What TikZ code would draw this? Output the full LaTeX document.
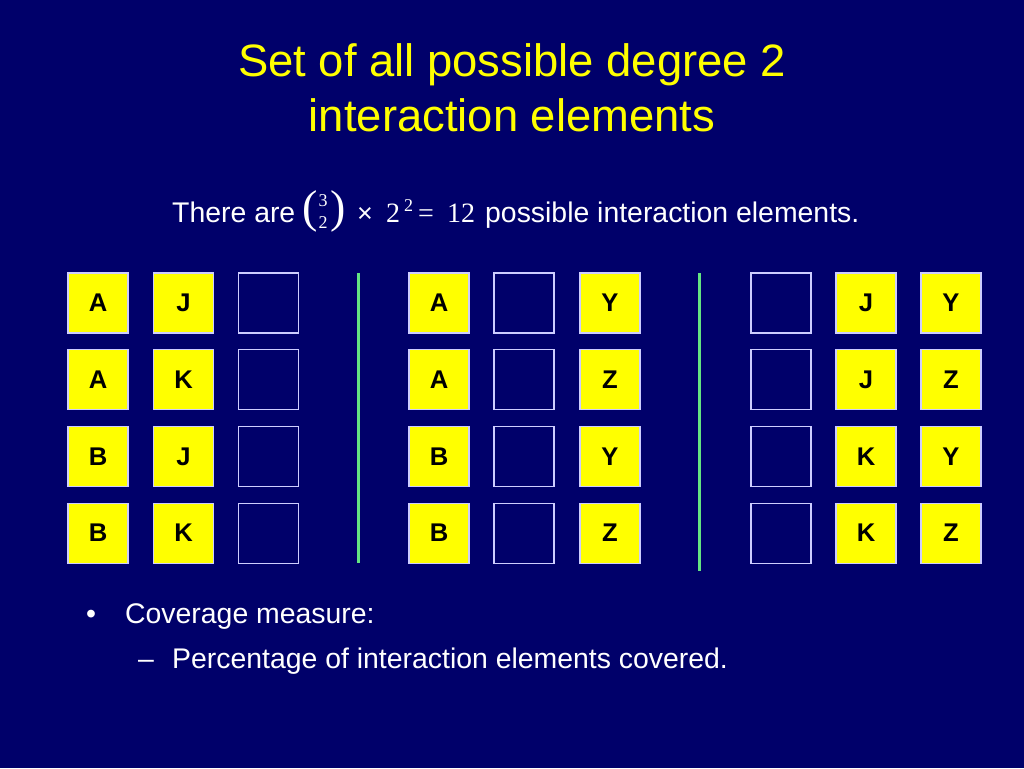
\documentclass[tikz,border=0pt]{standalone}
\usepackage{fontspec}
\setmainfont{Liberation Sans}
\newfontfamily\serifnum{Liberation Serif}
\definecolor{bg}{RGB}{0,0,106}
\definecolor{ttl}{RGB}{255,255,0}
\definecolor{boxedge}{RGB}{205,205,255}
\definecolor{sepgreen}{RGB}{100,228,130}
\begin{document}
\begin{tikzpicture}[x=1pt,y=-1pt,
  title/.style={text=ttl, font=\fontsize{45.4}{50}\selectfont, anchor=base, inner sep=0},
  body/.style={text=white, font=\fontsize{28.4}{34}\selectfont, anchor=base west, inner sep=0},
  ser/.style={text=white, anchor=base west, inner sep=0},
  cell/.style={draw=boxedge, line width=1.1pt, minimum size=60pt, inner sep=0, font=\bfseries\fontsize{25.6}{30}\selectfont, text=black},
  ycell/.style={cell, fill=ttl},
  sep/.style={draw=sepgreen, line width=3pt}]
\fill[bg] (0,0) rectangle (1024,768);
\useasboundingbox (0,0) rectangle (1024,768);
% title
\node[title] (t1) at (512,77) {Set of all possible degree 2};
\node[title] (t2) at (512,131) {interaction elements};
% formula line
\node[body] (f1) at (172,222) {There are};
\node[ser, font=\serifnum\fontsize{46}{50}\selectfont] (lp) at (302,222) {(};
\node[ser, anchor=center, font=\serifnum\fontsize{18}{20}\selectfont] (b3) at (323,201) {3};
\node[ser, anchor=center, font=\serifnum\fontsize{18}{20}\selectfont] (b2) at (323,223) {2};
\node[ser, font=\serifnum\fontsize{46}{50}\selectfont] (rp) at (330,222) {)};
\node[ser, font=\fontsize{27}{30}\selectfont] (tm) at (357,222) {×};
\node[ser, font=\serifnum\fontsize{28}{32}\selectfont] (two) at (386,222) {2};
\node[ser, font=\serifnum\fontsize{18}{20}\selectfont] (sup) at (404,211) {2};
\node[ser, font=\serifnum\fontsize{28}{32}\selectfont] (eq) at (418,222) {=};
\node[ser, font=\serifnum\fontsize{28}{32}\selectfont] (twelve) at (447,222) {12};
\node[body] (f2) at (485,222) {possible interaction elements.};
% group 1
\foreach \l [count=\i] in {A,A,B,B} {
  \pgfmathsetmacro\yy{303+76.7*(\i-1)}
  \node[ycell] (g1a\i) at (98,\yy) {\l};
}
\foreach \l [count=\i] in {J,K,J,K} {
  \pgfmathsetmacro\yy{303+76.7*(\i-1)}
  \node[ycell] (g1b\i) at (183.5,\yy) {\l};
}
\foreach \i in {1,...,4} {
  \pgfmathsetmacro\yy{303+76.7*(\i-1)}
  \node[cell] (g1c\i) at (268.5,\yy) {};
}
% group 2
\foreach \l [count=\i] in {A,A,B,B} {
  \pgfmathsetmacro\yy{303+76.7*(\i-1)}
  \node[ycell] (g2a\i) at (439,\yy) {\l};
}
\foreach \i in {1,...,4} {
  \pgfmathsetmacro\yy{303+76.7*(\i-1)}
  \node[cell] (g2b\i) at (524,\yy) {};
}
\foreach \l [count=\i] in {Y,Z,Y,Z} {
  \pgfmathsetmacro\yy{303+76.7*(\i-1)}
  \node[ycell] (g2c\i) at (610,\yy) {\l};
}
% group 3
\foreach \i in {1,...,4} {
  \pgfmathsetmacro\yy{303+76.7*(\i-1)}
  \node[cell] (g3a\i) at (781,\yy) {};
}
\foreach \l [count=\i] in {J,J,K,K} {
  \pgfmathsetmacro\yy{303+76.7*(\i-1)}
  \node[ycell] (g3b\i) at (866,\yy) {\l};
}
\foreach \l [count=\i] in {Y,Z,Y,Z} {
  \pgfmathsetmacro\yy{303+76.7*(\i-1)}
  \node[ycell] (g3c\i) at (951,\yy) {\l};
}
% separators
\coordinate (s1a) at (358,273);
\coordinate (s1b) at (358,563);
\coordinate (s2a) at (699.5,273);
\coordinate (s2b) at (699.5,571);
\draw[sep] (s1a) -- (s1b);
\draw[sep] (s2a) -- (s2b);
% bullets
\node[body] (bu1) at (86,623) {•};
\node[body] (bt1) at (125,623) {Coverage measure:};
\node[body] (bu2) at (138,668) {–};
\node[body] (bt2) at (172,668) {Percentage of interaction elements covered.};
\end{tikzpicture}
\end{document}
